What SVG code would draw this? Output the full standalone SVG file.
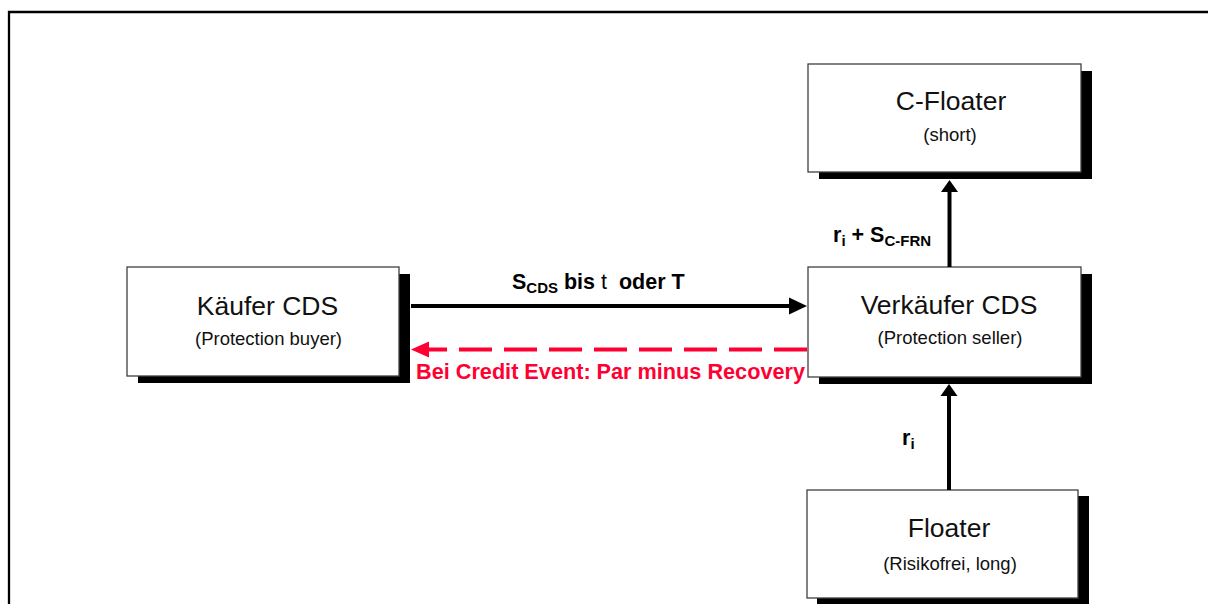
<svg xmlns="http://www.w3.org/2000/svg" width="1208" height="604" viewBox="0 0 1208 604">
  <style>
    .box { fill: #ffffff; stroke: #404040; stroke-width: 1.3; }
    .shadow { fill: #000000; }
    .title { font-family: "Liberation Sans", Arial, sans-serif; font-size: 26.5px; fill: #111111; text-anchor: middle; }
    .sub { font-family: "Liberation Sans", Arial, sans-serif; font-size: 18.5px; fill: #111111; text-anchor: middle; }
    .lbl { font-family: "Liberation Sans", Arial, sans-serif; font-size: 21.5px; font-weight: bold; fill: #000000; }
    .red { font-family: "Liberation Sans", Arial, sans-serif; font-size: 21.5px; font-weight: bold; fill: #FF0033; }
    .conn { stroke: #000000; stroke-width: 4; fill: none; }
    .dash { stroke: #FF0033; stroke-width: 4; fill: none; stroke-dasharray: 33 12; }
  </style>
  <rect x="0" y="0" width="1208" height="604" fill="#ffffff"/>
  <path d="M9,604 V12 H1208" fill="none" stroke="#000000" stroke-width="2.3"/>

  <g id="kaeufer">
    <rect class="shadow" x="138" y="274" width="272" height="109"/>
    <rect class="box" x="127" y="267" width="272" height="109"/>
    <text class="title" x="267.5" y="315">Käufer CDS</text>
    <text class="sub" x="268.5" y="345">(Protection buyer)</text>
  </g>

  <g id="c-floater">
    <rect class="shadow" x="819" y="71" width="273" height="108"/>
    <rect class="box" x="808" y="64" width="273" height="108"/>
    <text class="title" x="951" y="110">C-Floater</text>
    <text class="sub" x="950" y="141">(short)</text>
  </g>

  <g id="verkaeufer">
    <rect class="shadow" x="819" y="274" width="273" height="110"/>
    <rect class="box" x="808" y="267" width="273" height="110"/>
    <text class="title" x="949" y="313.5">Verkäufer CDS</text>
    <text class="sub" x="950" y="343.5">(Protection seller)</text>
  </g>

  <g id="floater">
    <rect class="shadow" x="817" y="496" width="272" height="108"/>
    <rect class="box" x="807" y="490" width="271" height="108"/>
    <text class="title" x="949" y="537">Floater</text>
    <text class="sub" x="950" y="570">(Risikofrei, long)</text>
  </g>

  <g id="connectors">
    <line class="conn" x1="411" y1="306" x2="790" y2="306"/>
    <polygon points="807,306 789,297.5 789,314.5" fill="#000000"/>
    <line class="dash" x1="807" y1="349.5" x2="427" y2="349.5"/>
    <polygon points="411,349.5 429,341.5 429,357.5" fill="#FF0033"/>
    <line class="conn" x1="949.5" y1="267" x2="949.5" y2="191"/>
    <polygon points="949.5,180 941,192 958,192" fill="#000000"/>
    <line class="conn" x1="949" y1="490" x2="949" y2="395"/>
    <polygon points="949,384 940.5,396 957.5,396" fill="#000000"/>
  </g>

  <g id="labels">
    <text class="lbl" x="512" y="289">S<tspan font-size="15" dy="4">CDS</tspan><tspan dy="-4"> bis </tspan><tspan font-weight="normal">t</tspan><tspan xml:space="preserve">  oder T</tspan></text>
    <text class="lbl" x="833" y="242">r<tspan font-size="15" dy="4">i</tspan><tspan dy="-4"> + S</tspan><tspan font-size="15" dy="4">C-FRN</tspan></text>
    <text class="lbl" x="902" y="445">r<tspan font-size="15" dy="4">i</tspan></text>
    <text class="red" x="416" y="379" textLength="389" lengthAdjust="spacingAndGlyphs">Bei Credit Event: Par minus Recovery</text>
  </g>
</svg>
